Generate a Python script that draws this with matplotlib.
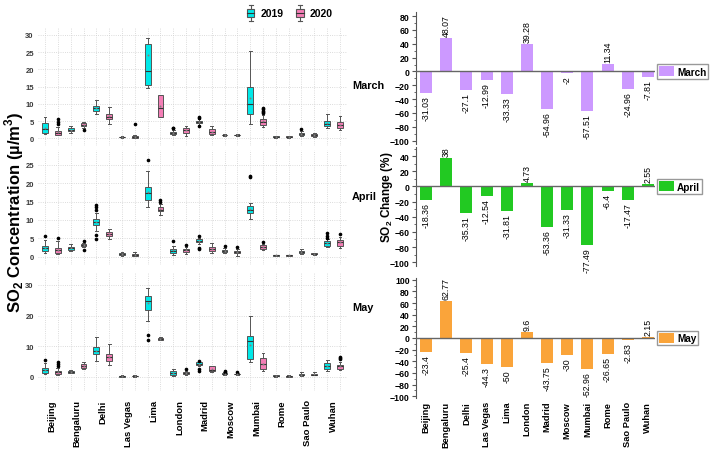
import numpy as np
import matplotlib
matplotlib.use("Agg")
import matplotlib.pyplot as plt
from matplotlib.legend_handler import HandlerBase
from matplotlib.patches import Rectangle, Patch
from matplotlib.lines import Line2D
from matplotlib.ticker import MultipleLocator

plt.rcParams['font.family'] = ['Liberation Sans', 'DejaVu Sans']
plt.rcParams['mathtext.fontset'] = 'custom'
plt.rcParams['mathtext.rm'] = 'Liberation Sans'
plt.rcParams['mathtext.bf'] = 'Liberation Sans:bold'

cities = ['Beijing', 'Bengaluru', 'Delhi', 'Las Vegas', 'Lima', 'London',
          'Madrid', 'Moscow', 'Mumbai', 'Rome', 'Sao Paulo', 'Wuhan']

# box summaries: (whisker low, q1, median, q3, whisker high, mean), one row per city
march_2019 = [(1.2, 1.7, 2.6, 4.4, 6.1, 3.0), (1.7, 2.1, 2.5, 2.9, 3.5, 2.5),
              (7.0, 8.0, 8.7, 9.5, 11.0, 8.8), (0.2, 0.3, 0.4, 0.55, 0.7, 0.4),
              (14.6, 15.6, 19.4, 27.3, 29.0, 24.1), (0.9, 1.4, 1.7, 2.0, 2.4, 1.7),
              (3.9, 4.5, 4.8, 5.1, 5.6, 4.8), (0.8, 0.9, 1.0, 1.1, 1.2, 1.0),
              (4.1, 7.0, 10.1, 14.8, 25.2, 11.7), (0.2, 0.3, 0.45, 0.6, 0.7, 0.45),
              (0.8, 1.0, 1.3, 1.7, 2.1, 1.4), (3.0, 3.5, 4.2, 5.1, 7.2, 4.4)]
march_2019_fliers = [[], [], [], [], [], [3.1, 2.9], [6.2, 5.9, 3.5], [], [], [], [2.6], []]
march_2020 = [(0.9, 1.1, 1.6, 2.2, 3.2, 1.8), (3.0, 3.6, 4.0, 4.6, 4.9, 4.0),
              (4.3, 5.5, 6.3, 7.2, 9.1, 6.4), (0.1, 0.25, 0.45, 0.7, 1.0, 0.5),
              (6.1, 6.2, 8.7, 12.5, 12.5, 9.5), (0.8, 1.6, 2.3, 2.9, 3.7, 2.3),
              (0.9, 1.3, 2.0, 2.7, 3.6, 2.0), (0.8, 0.9, 1.0, 1.1, 1.2, 1.0),
              (3.2, 4.0, 4.8, 5.6, 6.8, 5.0), (0.2, 0.35, 0.5, 0.6, 0.7, 0.5),
              (0.4, 0.6, 0.9, 1.2, 1.5, 0.9), (2.5, 2.9, 3.8, 4.8, 6.6, 3.9)]
march_2020_fliers = [[4.2, 4.7, 5.6], [2.4], [], [4.2], [], [], [], [],
                     [7.3, 7.7, 8.0, 8.4, 8.7], [], [], []]

april_2019 = [(1.0, 1.6, 2.4, 3.0, 4.5, 2.4), (1.6, 1.9, 2.3, 2.6, 3.4, 2.3),
              (6.9, 8.7, 9.4, 10.2, 12.0, 9.5), (0.3, 0.4, 0.7, 1.0, 1.4, 0.7),
              (13.5, 15.4, 17.3, 19.0, 23.3, 17.5), (0.5, 1.1, 1.6, 2.1, 2.9, 1.7),
              (3.5, 3.9, 4.3, 4.8, 5.1, 4.3), (0.9, 1.3, 1.6, 1.9, 2.4, 1.6),
              (10.3, 11.9, 12.8, 13.9, 14.5, 12.9), (0.15, 0.25, 0.35, 0.45, 0.6, 0.35),
              (0.7, 1.0, 1.3, 1.6, 2.0, 1.3), (2.6, 2.9, 3.6, 4.2, 4.8, 3.6)]
april_2019_fliers = [[5.6], [], [12.8, 13.5, 14.1, 5.8, 4.7], [], [26.2], [4.4],
                     [5.6, 2.4, 2.0], [2.9], [21.6, 22.0], [], [], [5.1, 5.5, 6.5]]
april_2020 = [(0.7, 1.0, 1.8, 2.5, 4.2, 1.9), (2.6, 2.9, 3.1, 3.4, 3.7, 3.1),
              (4.7, 5.5, 6.2, 6.7, 7.6, 6.1), (0.2, 0.3, 0.5, 0.8, 1.3, 0.5),
              (11.3, 12.4, 12.8, 13.4, 14.4, 12.9), (0.8, 1.2, 1.7, 2.1, 2.6, 1.7),
              (1.0, 1.5, 2.1, 2.7, 3.6, 2.1), (0.3, 0.9, 1.2, 1.45, 2.1, 1.2),
              (1.9, 2.2, 2.6, 3.1, 3.5, 2.6), (0.15, 0.25, 0.35, 0.5, 0.6, 0.35),
              (0.6, 0.7, 0.85, 1.0, 1.1, 0.85), (2.5, 3.0, 4.1, 4.6, 5.3, 4.0)]
april_2020_fliers = [[5.0], [4.2, 1.8], [], [], [15.0, 15.4], [3.1], [], [2.7],
                     [4.0], [], [], [6.2]]

may_2019 = [(0.9, 1.4, 2.3, 3.0, 4.4, 2.3), (1.2, 1.35, 1.6, 1.85, 2.1, 1.6),
            (5.1, 7.5, 8.5, 9.7, 13.0, 8.6), (0.05, 0.1, 0.2, 0.35, 0.5, 0.2),
            (18.3, 21.8, 24.6, 26.4, 29.0, 24.0), (0.3, 0.6, 1.2, 1.85, 2.5, 1.2),
            (3.5, 4.0, 4.3, 4.7, 5.0, 4.3), (0.6, 0.8, 1.0, 1.3, 1.5, 1.0),
            (5.0, 5.9, 11.8, 13.3, 20.0, 10.4), (0.1, 0.2, 0.35, 0.5, 0.6, 0.35),
            (0.4, 0.5, 0.7, 1.0, 1.5, 0.75), (1.9, 2.6, 3.6, 4.5, 5.5, 3.6)]
may_2019_fliers = [[5.5], [], [], [], [13.5, 12.0], [], [5.3, 2.7, 2.0], [2.0, 1.7],
                   [], [], [], []]
may_2020 = [(0.5, 0.9, 1.5, 2.0, 2.8, 1.5), (2.6, 2.8, 3.5, 4.2, 4.8, 3.5),
            (3.8, 5.1, 6.4, 7.6, 10.7, 6.4), (0.05, 0.15, 0.25, 0.4, 0.5, 0.25),
            (11.9, 12.1, 12.3, 12.6, 12.9, 12.3), (0.6, 1.0, 1.3, 1.6, 1.9, 1.3),
            (1.5, 1.85, 2.4, 3.4, 3.6, 2.5), (0.6, 0.8, 0.95, 1.1, 1.3, 0.95),
            (1.9, 2.6, 4.2, 6.1, 7.8, 4.3), (0.05, 0.1, 0.25, 0.4, 0.5, 0.25),
            (0.5, 0.55, 0.75, 1.0, 1.5, 0.8), (2.2, 2.6, 3.5, 3.9, 5.0, 3.5)]
may_2020_fliers = [[3.7, 4.3, 5.0], [], [], [], [], [2.6], [], [1.6], [], [], [],
                   [5.8, 6.2, 6.6]]

# % change 2020 vs 2019
march_change = [-31.03, 48.07, -27.1, -12.99, -33.33, 39.28, -54.96, -2, -57.51, 11.34, -24.96, -7.81]
april_change = [-18.36, 38, -35.31, -12.54, -31.81, 4.73, -53.36, -31.33, -77.49, -6.4, -17.47, 2.55]
may_change = [-23.4, 62.77, -25.4, -44.3, -50, 9.6, -43.75, -30, -52.96, -26.65, -2.83, 2.15]

c2019 = '#00E8E8'
c2020 = '#F47EB6'
EDGE = '#555555'


class BoxIcon(HandlerBase):
    """Small vertical boxplot used as legend handle."""
    def create_artists(self, legend, orig_handle, xdescent, ydescent, width, height, fontsize, trans):
        x0, y0 = -xdescent, -ydescent
        xc = x0 + width / 2
        kw = dict(color=EDGE, lw=0.8, transform=trans)
        return [
            Line2D([xc, xc], [y0, y0 + 0.25 * height], **kw),
            Line2D([xc, xc], [y0 + 0.75 * height, y0 + height], **kw),
            Line2D([x0 + 0.25 * width, x0 + 0.75 * width], [y0, y0], **kw),
            Line2D([x0 + 0.25 * width, x0 + 0.75 * width], [y0 + height, y0 + height], **kw),
            Rectangle((x0, y0 + 0.25 * height), width, 0.5 * height, facecolor=orig_handle.get_facecolor(),
                      edgecolor=EDGE, lw=0.8, transform=trans),
            Line2D([x0, x0 + width], [y0 + 0.5 * height] * 2, color='#333333', lw=0.8, transform=trans),
        ]


def make_stats(rows, fliers):
    return [dict(whislo=lo, q1=q1, med=med, q3=q3, whishi=hi, mean=mn, fliers=fl)
            for (lo, q1, med, q3, hi, mn), fl in zip(rows, fliers)]


def box_panel(ax, s19, f19, s20, f20, yticks, ylim):
    pos19 = np.arange(12) * 2 + 1
    for rows, fl, pos, color in [(s19, f19, pos19, c2019), (s20, f20, pos19 + 1, c2020)]:
        ax.bxp(make_stats(rows, fl), positions=pos, widths=0.45, patch_artist=True,
               showmeans=True, capwidths=0.22, manage_ticks=False,
               boxprops=dict(facecolor=color, edgecolor=EDGE, lw=0.7),
               medianprops=dict(color='#333333', lw=0.8),
               whiskerprops=dict(color=EDGE, lw=0.7),
               capprops=dict(color=EDGE, lw=0.7),
               flierprops=dict(marker='o', markersize=1.6, markerfacecolor='black',
                               markeredgecolor='black'),
               meanprops=dict(marker='o', markersize=1.4, markerfacecolor='#808080',
                              markeredgecolor='none'))
    ax.set_xlim(0.45, 24.55)
    ax.set_ylim(ylim)
    ax.set_xticks(np.arange(1, 25))
    ax.set_xticklabels([])
    ax.set_yticks(yticks)
    ax.grid(True, which='major', color='#D0D0D0', lw=0.6, ls=':')
    ax.set_axisbelow(True)
    for s in ax.spines.values():
        s.set_visible(False)
    ax.tick_params(which='both', length=0, labelsize=5.5, labelcolor='#3A3A3A', pad=3)
    for lbl in ax.get_yticklabels():
        lbl.set_fontweight('bold')


def bar_panel(ax, values, color, label, ylim, yticks):
    x = np.arange(12)
    ax.bar(x, values, width=0.6, color=color, label=label, zorder=2)
    ax.axhline(0, color='#666666', lw=1.0, zorder=3)
    for xi, v in zip(x, values):
        ax.annotate(f"{v:g}", (xi, v), xytext=(0, 1.5 if v >= 0 else -1.5),
                    textcoords='offset points', rotation=90, ha='center',
                    va='bottom' if v >= 0 else 'top', fontsize=6.3)
    ax.set_xlim(-0.5, 11.35)
    ax.set_ylim(ylim)
    ax.set_yticks(yticks)
    ax.yaxis.set_minor_locator(MultipleLocator(10))
    for side in ['top', 'right', 'bottom']:
        ax.spines[side].set_visible(False)
    ax.spines['left'].set_color('#555555')
    ax.tick_params(axis='y', labelsize=6.3, length=3, width=0.8, color='#555555', pad=1.5)
    ax.tick_params(axis='y', which='minor', length=1.8, width=0.6, color='#555555')
    ax.set_xticks([])
    for lbl in ax.get_yticklabels():
        lbl.set_fontweight('bold')
    ax.legend(loc='center left', bbox_to_anchor=(1.01, 0), bbox_transform=ax.get_yaxis_transform(),
              fancybox=False, edgecolor='#999999', framealpha=1, borderpad=0.2,
              handlelength=1.5, handleheight=1.1, handletextpad=0.25, borderaxespad=0,
              prop=dict(weight='bold', size=7.2))


W, H = 710, 452
fig = plt.figure(figsize=(7.1, 4.52), dpi=100)


def px_axes(left, top, right, bottom):
    return fig.add_axes([left / W, 1 - bottom / H, (right - left) / W, (bottom - top) / H])


ax_m = px_axes(38, 29, 347, 147)
ax_a = px_axes(38, 151, 347, 266)
ax_y = px_axes(38, 273, 347, 392)
box_panel(ax_m, march_2019, march_2019_fliers, march_2020, march_2020_fliers, np.arange(0, 31, 5), (-2.2, 32.0))
box_panel(ax_a, april_2019, april_2019_fliers, april_2020, april_2020_fliers, np.arange(0, 26, 5), (-2.25, 29.0))
box_panel(ax_y, may_2019, may_2019_fliers, may_2020, may_2020_fliers, [0, 10, 20, 30], (-4.6, 34.2))
ax_y.set_xticks(np.arange(12) * 2 + 1.5, cities, minor=True)
ax_y.tick_params(axis='x', which='minor', length=0, labelsize=6.8, labelcolor='black',
                 labelrotation=90, pad=6)
for lbl in ax_y.get_xticklabels(minor=True):
    lbl.set_fontweight('bold')

for name, yc in [('March', 86), ('April', 197), ('May', 308)]:
    fig.text(352 / W, 1 - yc / H, name, ha='left', va='center', fontsize=7.8, fontweight='bold')

fig.text(14 / W, 1 - 212 / H, r'SO$_\mathbf{2}$ Concentration (µ/m$^\mathbf{3}$)', rotation=90,
         ha='center', va='center', fontsize=12, fontweight='bold')

fig.legend(handles=[Patch(facecolor=c2019), Patch(facecolor=c2020)], labels=['2019', '2020'],
           handler_map={Patch: BoxIcon()}, ncol=2, loc='center', bbox_to_anchor=(290 / W, 1 - 14 / H),
           frameon=False, handlelength=0.7, handleheight=1.9, handletextpad=0.6,
           columnspacing=1.2, prop=dict(weight='bold', size=7.5))

bx_m = px_axes(416, 13, 655, 145)
bx_a = px_axes(416, 148, 655, 267)
bx_y = px_axes(416, 279, 655, 399)
bar_panel(bx_m, march_change, '#CC99FF', 'March', (-105, 86), np.arange(-100, 81, 20))
bar_panel(bx_a, april_change, '#22C922', 'April', (-105, 52), np.arange(-100, 41, 20))
bar_panel(bx_y, may_change, '#FAA43A', 'May', (-103, 103), np.arange(-100, 101, 20))
bx_y.set_xticks(np.arange(12), cities, rotation=90, fontsize=6.7, fontweight='bold')
bx_y.tick_params(axis='x', length=0, pad=2)

fig.text(387 / W, 1 - 197 / H, r'SO$_\mathbf{2}$ Change (%)', rotation=90, ha='center', va='center',
         fontsize=8.5, fontweight='bold')

fig.savefig('out.png', dpi=100)
